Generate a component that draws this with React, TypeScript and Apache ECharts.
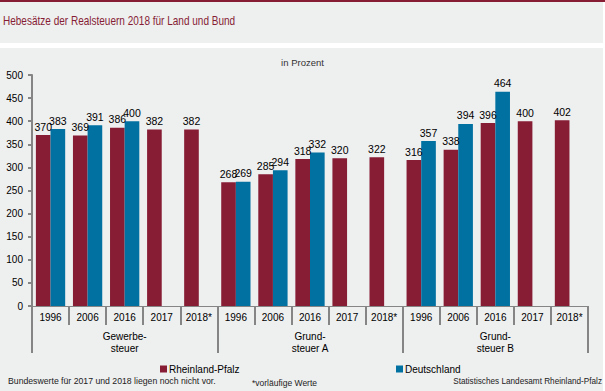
import React, { useEffect, useRef } from "react";
import * as echarts from "echarts";

const years = ["1996", "2006", "2016", "2017", "2018*"];
const groups = ["Gewerbe-\nsteuer", "Grund-\nsteuer A", "Grund-\nsteuer B"];
const categories = [...years, ...years, ...years];
const rlp = [370, 369, 386, 382, 382, 268, 285, 318, 320, 322, 316, 338, 396, 400, 402];
const de = [383, 391, 400, null, null, 269, 294, 332, null, null, 357, 394, 464, null, null];
const yTicks = { min: 0, max: 500, interval: 50 };

const RED = "#861d35";
const BLUE = "#0071a0";
const BG = "#eeefef";
const GRAY = "#858585";
const FONT = "'Liberation Sans', Arial, sans-serif";

export default function App() {
  const ref = useRef<HTMLDivElement>(null);
  useEffect(() => {
    const chart = echarts.init(ref.current!, null, { renderer: "svg" });
    const label = {
      show: true,
      position: "top" as const,
      distance: 3,
      color: "#000",
      fontSize: 10.5,
      fontFamily: FONT,
    };
    chart.setOption({
      animation: false,
      backgroundColor: "#ffffff",
      textStyle: { fontFamily: FONT },
      graphic: [
        { type: "rect", z: -10, shape: { x: 0, y: 0, width: 605, height: 2 }, style: { fill: RED } },
        { type: "rect", z: -10, shape: { x: 0, y: 2, width: 603, height: 41 }, style: { fill: BG } },
        { type: "rect", z: -10, shape: { x: 0, y: 48, width: 603, height: 343 }, style: { fill: BG } },
        {
          type: "text",
          x: 3,
          y: 21,
          scaleX: 0.835,
          style: {
            text: "Hebesätze der Realsteuern 2018 für Land und Bund",
            fill: RED,
            font: `12px ${FONT}`,
            verticalAlign: "middle",
          },
        },
        {
          type: "text",
          left: "center",
          top: 57,
          style: { text: "in Prozent", fill: "#333", font: `9.5px ${FONT}` },
        },
        {
          type: "text",
          left: 8,
          top: 376,
          style: { text: "Bundeswerte für 2017 und 2018 liegen noch nicht vor.", fill: "#222", font: `8.7px ${FONT}` },
        },
        {
          type: "text",
          left: 252,
          top: 378,
          style: { text: "*vorläufige Werte", fill: "#222", font: `8.5px ${FONT}` },
        },
        {
          type: "text",
          right: 3,
          top: 377,
          style: { text: "Statistisches Landesamt Rheinland-Pfalz", fill: "#222", font: `8.2px ${FONT}` },
        },
      ],
      legend: [
        {
          data: ["Rheinland-Pfalz"],
          left: 155,
          top: 359,
          icon: "rect",
          itemWidth: 7,
          itemHeight: 7,
          textStyle: { fontSize: 10, color: "#000", fontFamily: FONT, padding: [0, 0, 0, -3] },
        },
        {
          data: ["Deutschland"],
          left: 391,
          top: 359,
          icon: "rect",
          itemWidth: 7,
          itemHeight: 7,
          textStyle: { fontSize: 10, color: "#000", fontFamily: FONT, padding: [0, 0, 0, -3] },
        },
      ],
      grid: { left: 32, right: 17, top: 75, bottom: 85, containLabel: false },
      xAxis: [
        {
          type: "category",
          data: categories,
          position: "bottom",
          axisLine: { show: true, lineStyle: { color: GRAY, width: 1 } },
          axisTick: { show: true, interval: 0, length: 19, lineStyle: { color: GRAY, width: 2 } },
          axisLabel: { interval: 0, margin: 6, color: "#000", fontSize: 10, fontFamily: FONT },
        },
        {
          type: "category",
          data: groups,
          position: "bottom",
          axisLine: { show: false },
          axisTick: { show: true, interval: 0, length: 47, lineStyle: { color: GRAY, width: 2 } },
          axisLabel: { interval: 0, margin: 24, color: "#000", fontSize: 10, lineHeight: 12, fontFamily: FONT },
        },
      ],
      yAxis: {
        type: "value",
        min: yTicks.min,
        max: yTicks.max,
        interval: yTicks.interval,
        axisLine: { show: true, lineStyle: { color: GRAY, width: 2 } },
        axisTick: { show: true, length: 4, lineStyle: { color: GRAY, width: 2 } },
        splitLine: { show: false },
        axisLabel: { margin: 9, color: "#000", fontSize: 10, fontFamily: FONT },
      },
      series: [
        {
          name: "Rheinland-Pfalz",
          type: "bar",
          data: rlp,
          itemStyle: { color: RED },
          barGap: "0%",
          barCategoryGap: "21%",
          label,
        },
        {
          name: "Deutschland",
          type: "bar",
          data: de,
          itemStyle: { color: BLUE },
          label,
        },
      ],
    });
    return () => chart.dispose();
  }, []);
  return (
    <div
      ref={ref}
      style={{ position: "fixed", left: 0, top: 0, width: 605, height: 391 }}
    />
  );
}
